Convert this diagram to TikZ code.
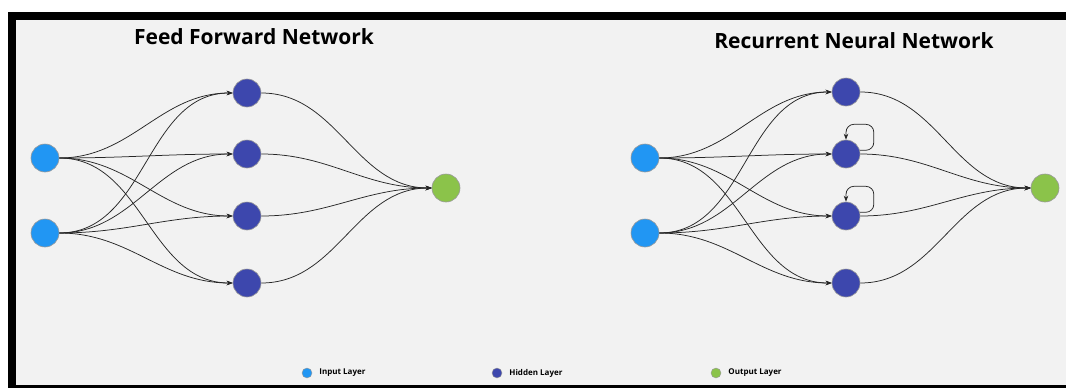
\documentclass[tikz,border=0pt]{standalone}
\usepackage{fontspec}
\setmainfont{Open Sans}
\usetikzlibrary{arrows.meta,positioning}
\definecolor{inblue}{HTML}{2196F3}
\definecolor{hidblue}{HTML}{3D47AD}
\definecolor{outgreen}{HTML}{8BC34A}
\definecolor{bggray}{HTML}{F2F2F2}

\begin{document}
\begin{tikzpicture}[x=1pt,y=-1pt,
unit/.style={circle,draw=gray!80,line width=0.6pt,minimum size=28pt,inner sep=0pt},
leg/.style={circle,draw=gray!80,line width=0.4pt,minimum size=10pt,inner sep=0pt},
legtxt/.style={font=\bfseries\fontsize{8}{9}\selectfont,inner sep=1pt},
ttl/.style={font=\bfseries\fontsize{21}{25}\selectfont},
conn/.style={-{Stealth[length=6pt,width=4.5pt]},line width=0.75pt,draw=black!85,out=0,in=180}
]
% frame
\useasboundingbox (0,0) rectangle (1066,388);
\fill[white] (0,0) rectangle (1066,388);
\fill[black] (8,12) rectangle (1066,388);
\fill[bggray] (16,20) rectangle (1066,385);

% feed forward
\node[ttl] (fftitle) at (254,37) {Feed Forward Network};
\node[unit,fill=inblue] (fi1) at (45,158) {};
\node[unit,fill=inblue] (fi2) at (45,233) {};
\node[unit,fill=hidblue] (fh1) at (247,93) {};
\node[unit,fill=hidblue] (fh2) at (247,154) {};
\node[unit,fill=hidblue] (fh3) at (247,216) {};
\node[unit,fill=hidblue] (fh4) at (247,283) {};
\node[unit,fill=outgreen] (fo) at (446,188) {};

\path (fi1) edge[conn] (fh1) edge[conn] (fh2) edge[conn] (fh3) edge[conn] (fh4);
\path (fi2) edge[conn] (fh1) edge[conn] (fh2) edge[conn] (fh3) edge[conn] (fh4);
\path (fh1) edge[conn] (fo) (fh2) edge[conn] (fo) (fh3) edge[conn] (fo) (fh4) edge[conn] (fo);

% recurrent
\node[ttl] (rnntitle) at (854,41) {Recurrent Neural Network};
\node[unit,fill=inblue] (ri1) at (645,158) {};
\node[unit,fill=inblue] (ri2) at (645,233) {};
\node[unit,fill=hidblue] (rh1) at (846,92) {};
\node[unit,fill=hidblue] (rh2) at (846,154) {};
\node[unit,fill=hidblue] (rh3) at (846,216) {};
\node[unit,fill=hidblue] (rh4) at (846,283) {};
\node[unit,fill=outgreen] (ro) at (1045,188) {};

\path (ri1) edge[conn] (rh1) edge[conn] (rh2) edge[conn] (rh3) edge[conn] (rh4);
\path (ri2) edge[conn] (rh1) edge[conn] (rh2) edge[conn] (rh3) edge[conn] (rh4);
\path (rh1) edge[conn] (ro) (rh2) edge[conn] (ro) (rh3) edge[conn] (ro) (rh4) edge[conn] (ro);
% self loops
\draw[conn,rounded corners=8pt] (rh2.15) -| ++(14,-26) -| (rh2.north);
\draw[conn,rounded corners=8pt] (rh3.15) -| ++(14,-26) -| (rh3.north);

% legend
\node[leg,fill=inblue] (lin) at (307,373) {};
\node[legtxt,right=6pt of lin] (lintxt) {Input Layer};
\node[leg,fill=hidblue] (lhid) at (497,373) {};
\node[legtxt,right=6pt of lhid] (lhidtxt) {Hidden Layer};
\node[leg,fill=outgreen] (lout) at (716,373) {};
\node[legtxt,right=6pt of lout] (louttxt) {Output Layer};
\end{tikzpicture}
\end{document}
